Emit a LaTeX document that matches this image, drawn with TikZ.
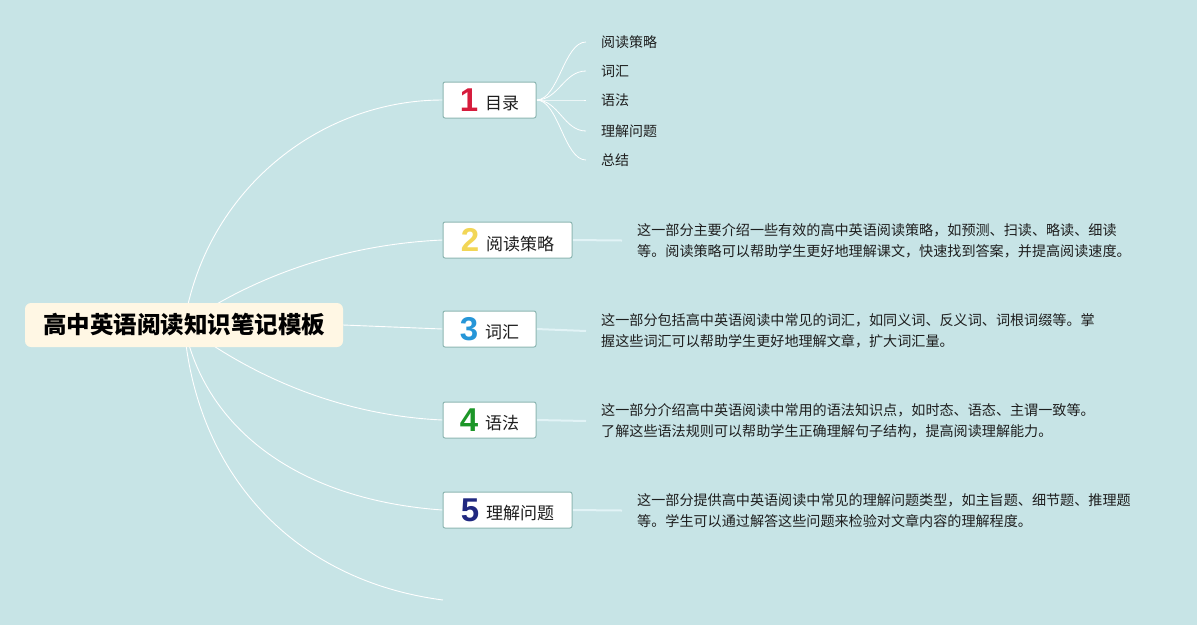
\documentclass[tikz,border=0pt]{standalone}
\usepackage{fontspec}
\setmainfont{Noto Sans CJK SC}
\newfontfamily\numfont{Liberation Sans}
\usetikzlibrary{backgrounds,calc}
\definecolor{bgc}{RGB}{199,228,230}
\definecolor{rootfill}{RGB}{255,247,228}
\definecolor{boxline}{RGB}{140,182,178}
\definecolor{txt}{RGB}{30,30,30}
\definecolor{n1}{RGB}{214,28,60}
\definecolor{n2}{RGB}{242,214,86}
\definecolor{n3}{RGB}{38,150,216}
\definecolor{n4}{RGB}{28,150,40}
\definecolor{n5}{RGB}{32,40,128}
\definecolor{descline}{RGB}{226,243,246}
\tikzset{
  rootbox/.style={fill=rootfill, rounded corners=6pt, minimum width=318pt, minimum height=44pt,
    font=\fontsize{23.5pt}{26pt}\selectfont\bfseries, text=black, inner sep=0pt},
  branchbox/.style={draw=boxline, line width=1pt, fill=white, rounded corners=2pt, minimum height=36pt,
    inner sep=0pt, text=txt, font=\fontsize{17pt}{20pt}\selectfont},
  trunk/.style={draw=white, line width=0.9pt},
  twig/.style={draw=white, line width=0.8pt},
  descline/.style={draw=descline, line width=2pt},
  subitem/.style={anchor=west, inner xsep=15pt, inner ysep=0pt, text=txt,
    font=\fontsize{14pt}{16pt}\selectfont},
  desc/.style={anchor=west, inner xsep=15pt, inner ysep=0pt, align=left, text=txt,
    font=\fontsize{14.1pt}{21pt}\selectfont},
}
\newcommand{\bnum}[2]{{\numfont\fontsize{33pt}{33pt}\selectfont\bfseries\color{#1}\raisebox{-1.5pt}{#2}}\hspace{7pt}}
\begin{document}
\begin{tikzpicture}[x=1pt,y=-1pt]
\useasboundingbox (0,0) rectangle (1197,625);
\begin{scope}[on background layer]
\fill[bgc] (0,0) rectangle (1197,625);
\end{scope}

\node[rootbox] (root) at (184,325) {高中英语阅读知识笔记模板};

\node[branchbox, minimum width=93pt] (b1) at (489.5,100) {\bnum{n1}{1}目录};
\node[branchbox, minimum width=129pt] (b2) at (507.5,240) {\bnum{n2}{2}阅读策略};
\node[branchbox, minimum width=93pt] (b3) at (489.5,329) {\bnum{n3}{3}词汇};
\node[branchbox, minimum width=93pt] (b4) at (489.5,420) {\bnum{n4}{4}语法};
\node[branchbox, minimum width=129pt] (b5) at (507.5,510) {\bnum{n5}{5}理解问题};
\coordinate (e6) at (443,600);

\node[subitem] (s1) at (586,42) {阅读策略};
\node[subitem] (s2) at (586,71) {词汇};
\node[subitem] (s3) at (586,100) {语法};
\node[subitem] (s4) at (586,131) {理解问题};
\node[subitem] (s5) at (586,160) {总结};

\node[desc] (d2) at (622,240.5) {这一部分主要介绍一些有效的高中英语阅读策略，如预测、扫读、略读、细读\\等。阅读策略可以帮助学生更好地理解课文，快速找到答案，并提高阅读速度。};
\node[desc] (d3) at (586,331) {这一部分包括高中英语阅读中常见的词汇，如同义词、反义词、词根词缀等。掌\\握这些词汇可以帮助学生更好地理解文章，扩大词汇量。};
\node[desc] (d4) at (586,421) {这一部分介绍高中英语阅读中常用的语法知识点，如时态、语态、主谓一致等。\\了解这些语法规则可以帮助学生正确理解句子结构，提高阅读理解能力。};
\node[desc] (d5) at (622,510.5) {这一部分提供高中英语阅读中常见的理解问题类型，如主旨题、细节题、推理题\\等。学生可以通过解答这些问题来检验对文章内容的理解程度。};

\begin{scope}[on background layer]
\draw[trunk] (root.center) .. controls (205,190) and (320,100) .. (b1.west);
\draw[trunk] (root.center) .. controls (240,285) and (330,245) .. (b2.west);
\draw[trunk] (root.east) -- (b3.west);
\draw[trunk] (root.center) .. controls (240,368) and (330,415) .. (b4.west);
\draw[trunk] (root.center) .. controls (205,430) and (300,500) .. (b5.west);
\draw[trunk] (root.center) .. controls (195,470) and (290,580) .. (e6);

\foreach \s in {s1,s2,s3,s4,s5}
  \draw[twig] (b1.east) .. controls ($(b1.east)+(22,0)$) and ($(\s.west)+(-22,0)$) .. (\s.west);

\draw[descline] (b2.east) -- (d2.west);
\draw[descline] (b3.east) -- (d3.west);
\draw[descline] (b4.east) -- (d4.west);
\draw[descline] (b5.east) -- (d5.west);
\end{scope}
\end{tikzpicture}
\end{document}
